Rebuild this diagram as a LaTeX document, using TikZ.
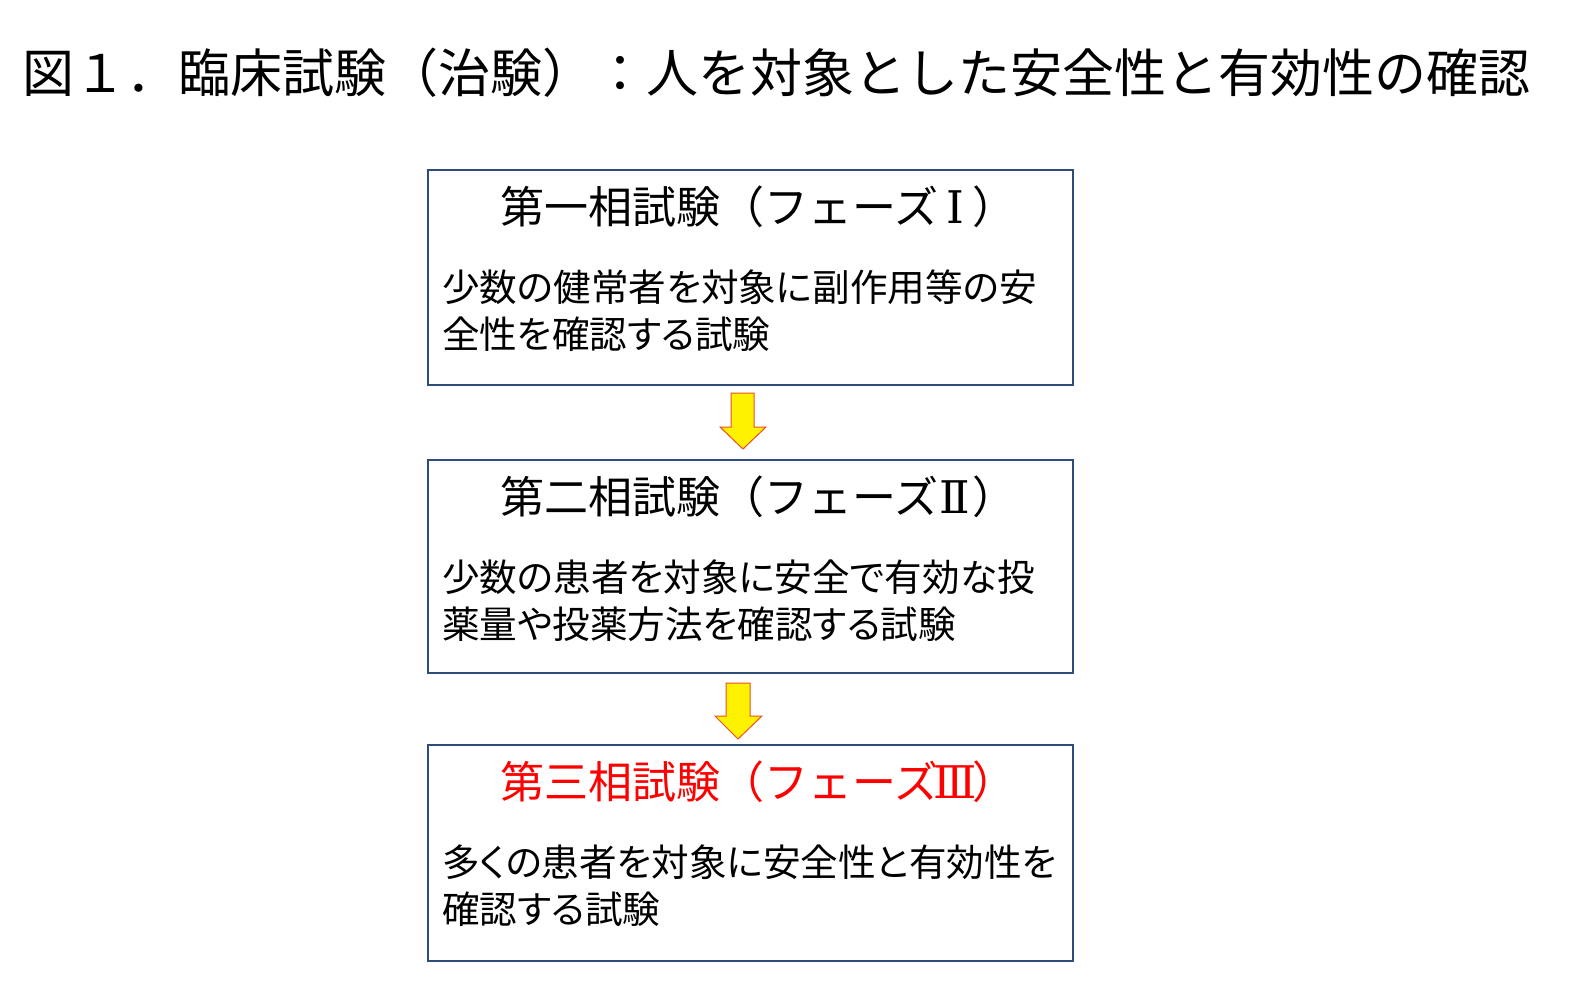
\documentclass[tikz,border=0pt]{standalone}
\usepackage{fontspec}
\setmainfont{Noto Sans CJK JP}
\newfontfamily\jpprop[RawFeature=+palt]{Noto Sans CJK JP}
\newfontfamily\numfont{DejaVu Serif}
\definecolor{boxline}{HTML}{2F4D7A}
\definecolor{arrowline}{HTML}{E8502A}
\definecolor{phasered}{HTML}{FF0000}
\newcommand{\romannum}[1]{\makebox[34pt]{\numfont\fontsize{45}{50}\selectfont #1}}
\begin{document}
\begin{tikzpicture}[x=1pt,y=-1pt,
  phasebox/.style={draw=boxline,line width=1.2pt},
  titletext/.style={anchor=base west,inner sep=0pt,font=\fontsize{52}{60}\selectfont},
  phasetitle/.style={anchor=base west,inner sep=0pt,font=\fontsize{44}{50}\selectfont},
  bodytext/.style={anchor=base west,inner sep=0pt,font=\jpprop\fontsize{37.6}{47}\selectfont},
  blockarrow/.style={draw=arrowline,fill=yellow,line width=1pt,line join=miter}]
\useasboundingbox[fill=white] (0,0) rectangle (1571,999);
% title
\node[titletext] (title) at (22,92) {図１．臨床試験（治験）：人を対象とした安全性と有効性の確認};
% boxes
\draw[phasebox] (428,170) rectangle (1073,385);
\draw[phasebox] (428,460) rectangle (1073,673);
\draw[phasebox] (428,745) rectangle (1073,961);
% box 1
\node[phasetitle] (t1) at (500,223.2) {第一相試験（フェーズ\romannum{Ⅰ}）};
\node[bodytext] (d1a) at (442,301) {少数の健常者を対象に副作用等の安};
\node[bodytext] (d1b) at (442,348) {全性を確認する試験};
% box 2
\node[phasetitle] (t2) at (500,513.2) {第二相試験（フェーズ\romannum{Ⅱ}）};
\node[bodytext] (d2a) at (442,591) {少数の患者を対象に安全で有効な投};
\node[bodytext] (d2b) at (442,638) {薬量や投薬方法を確認する試験};
% box 3
\node[phasetitle,text=phasered] (t3) at (500,798.2) {第三相試験（フェーズ\romannum{Ⅲ}）};
\node[bodytext] (d3a) at (442,876) {多くの患者を対象に安全性と有効性を};
\node[bodytext] (d3b) at (442,923) {確認する試験};
% arrows
\draw[blockarrow] (731,393) -- (754,393) -- (754,427) -- (766,427) -- (743,449) -- (720,427) -- (731,427) -- cycle;
\draw[blockarrow] (726,683) -- (750,683) -- (750,716) -- (762,716) -- (738,739) -- (715,716) -- (726,716) -- cycle;
\end{tikzpicture}
\end{document}
